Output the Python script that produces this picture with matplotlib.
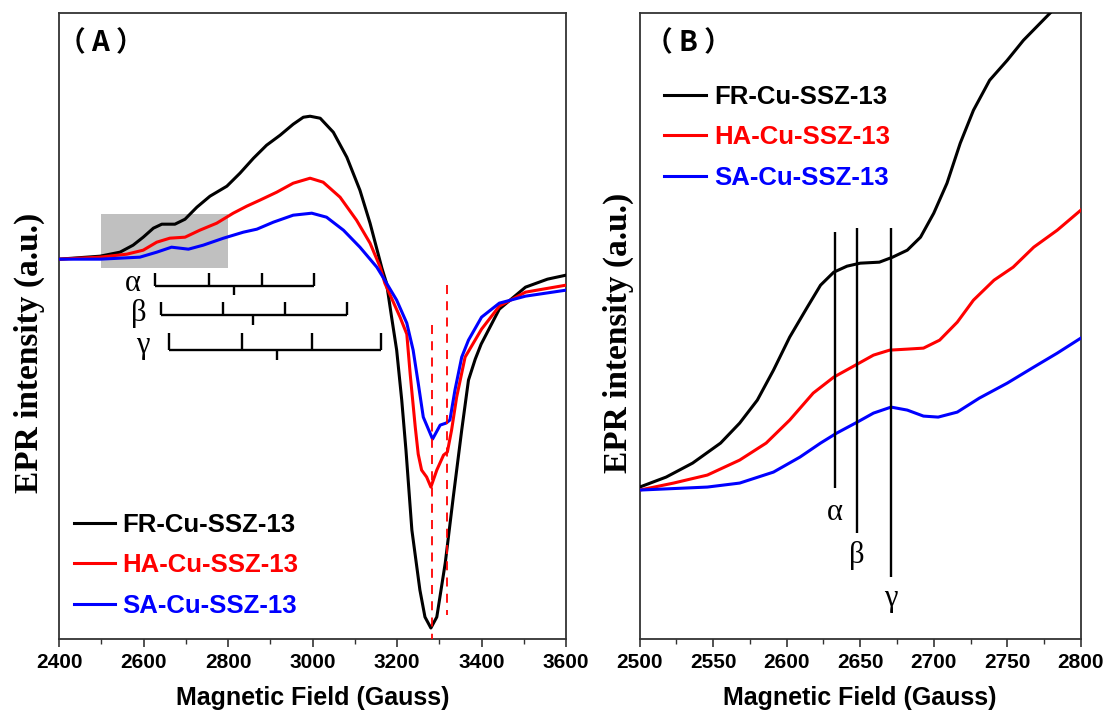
import matplotlib
matplotlib.use("Agg")
import matplotlib.pyplot as plt
from matplotlib.patches import Rectangle
from matplotlib.ticker import MultipleLocator

# ---- panel A: full spectra (field in Gauss, intensity in arb. units) ----
fr_a_field = [2400, 2497, 2544, 2575, 2599, 2623, 2643, 2674, 2698, 2726, 2757, 2797, 2828,
              2860, 2891, 2923, 2954, 2978, 2994, 3018, 3049, 3081, 3112, 3136, 3164, 3175,
              3187, 3199, 3211, 3221, 3235, 3254, 3266, 3280, 3294, 3314, 3333, 3353, 3369,
              3385, 3399, 3442, 3504, 3556, 3600]
fr_a_int = [0, 3, 7, 14, 22, 31, 35, 35, 40, 52, 63, 73, 86,
            101, 114, 124, 135, 142, 143, 141, 127, 102, 69, 36, -9, -24,
            -58, -91, -141, -191, -271, -331, -358, -369, -358, -304, -238, -171, -121,
            -100, -85, -50, -28, -20, -16]

ha_a_field = [2400, 2497, 2560, 2599, 2631, 2662, 2698, 2733, 2773, 2812, 2844, 2875, 2915,
              2954, 2994, 3025, 3065, 3104, 3136, 3160, 3171, 3207, 3223, 3231, 3243, 3250,
              3258, 3270, 3280, 3294, 3310, 3319, 3329, 3341, 3361, 3400, 3442, 3504, 3600]
ha_a_int = [0, 2, 5, 9, 17, 21, 22, 29, 36, 46, 53, 59, 67,
            76, 81, 77, 62, 39, 16, -8, -24, -58, -75, -115, -168, -195,
            -211, -218, -228, -211, -196, -193, -171, -138, -98, -70, -47, -33, -26]

sa_a_field = [2400, 2497, 2591, 2631, 2666, 2706, 2741, 2789, 2836, 2868, 2907, 2954, 2998,
              3033, 3073, 3112, 3152, 3168, 3199, 3223, 3238, 3250, 3262, 3272, 3284, 3302,
              3316, 3325, 3337, 3353, 3369, 3400, 3442, 3504, 3600]
sa_a_int = [0, 0, 2, 7, 12, 10, 14, 21, 27, 30, 37, 44, 46,
            42, 29, 12, -8, -19, -41, -64, -91, -124, -158, -168, -180, -166,
            -164, -161, -131, -98, -81, -58, -44, -37, -31]

# hyperfine stick diagrams (four lines + centre) for sites alpha, beta, gamma
hf_names = ["α", "β", "γ"]
hf_lines = [[2628, 2755, 2879, 3004], [2641, 2788, 2934, 3081], [2661, 2832, 2998, 3162]]
hf_center = [2814, 2860, 2915]
hf_base = [-27, -56, -91]
hf_top = [-14, -43, -74]
hf_low = [-36, -66, -101]
hf_label_x = [2575, 2588, 2597]
hf_label_y = [-24, -54, -86]

zoom_region = [2500, 2800]
zoom_int = [-9, 45]

dash_field = [3282, 3319]
dash_top = [-66, -26]
dash_low = [-380, -356]

# ---- panel B: zoom of the low-field region ----
fr_b_field = [2500, 2518, 2536, 2555, 2568, 2580, 2591, 2602, 2614, 2623, 2632, 2641, 2650,
              2663, 2672, 2682, 2691, 2700, 2709, 2718, 2727, 2738, 2750, 2761, 2779]
fr_b_int = [152, 162, 176, 196, 216, 239, 269, 302, 332, 354, 367, 373, 376,
            377, 382, 389, 402, 426, 456, 496, 529, 559, 579, 599, 626]

ha_b_field = [2500, 2523, 2546, 2568, 2586, 2602, 2618, 2632, 2648, 2659, 2670, 2682, 2693,
              2704, 2716, 2727, 2741, 2754, 2768, 2784, 2800]
ha_b_int = [149, 156, 164, 179, 196, 219, 246, 262, 275, 284, 289, 290, 291,
            299, 317, 339, 359, 372, 392, 409, 429]

sa_b_field = [2500, 2546, 2568, 2591, 2609, 2623, 2634, 2648, 2659, 2671, 2682, 2693, 2703,
              2716, 2731, 2750, 2768, 2784, 2800]
sa_b_int = [149, 152, 156, 167, 182, 196, 206, 217, 226, 232, 229, 223, 222,
            227, 241, 256, 272, 286, 301]

mark_field = [2633, 2648, 2671]
mark_top = [407, 411, 411]
mark_low = [151, 106, 62]
mark_label_y = [127, 84, 41]

names = ["FR-Cu-SSZ-13", "HA-Cu-SSZ-13", "SA-Cu-SSZ-13"]
colors = ["black", "#ff0000", "#0000ff"]

sans = "Liberation Sans"
serif = "Liberation Serif"
cjk = ["Noto Sans CJK SC", "DejaVu Sans"]

fig = plt.figure(figsize=(11.06, 7.10), dpi=100)
axA = fig.add_axes([0.0535, 0.1, 0.4583, 0.8813])
axB = fig.add_axes([0.5784, 0.1, 0.3988, 0.8813])


def style_axis(ax, major, minor):
    for sp in ax.spines.values():
        sp.set_linewidth(1.3)
        sp.set_color("#333333")
    ax.xaxis.set_major_locator(MultipleLocator(major))
    ax.xaxis.set_minor_locator(MultipleLocator(minor))
    ax.tick_params(axis="x", which="major", direction="out", length=6, width=1.2,
                   color="#333333", pad=4)
    ax.tick_params(axis="x", which="minor", direction="out", length=3.5, width=1.0,
                   color="#333333")
    ax.tick_params(axis="y", left=False, labelleft=False)
    for lab in ax.get_xticklabels():
        lab.set_fontfamily(sans)
        lab.set_fontweight("bold")
        lab.set_fontsize(15)
    ax.set_xlabel("Magnetic Field (Gauss)", fontfamily=sans, fontweight="bold",
                  fontsize=18, labelpad=10)


# ---- panel A ----
axA.add_patch(Rectangle((zoom_region[0], zoom_int[0]), zoom_region[1] - zoom_region[0],
                        zoom_int[1] - zoom_int[0], facecolor="#c0c0c0", edgecolor="none",
                        zorder=0))
for f, y, n, c in zip([fr_a_field, ha_a_field, sa_a_field], [fr_a_int, ha_a_int, sa_a_int],
                      names, colors):
    axA.plot(f, y, color=c, lw=2.2, label=n, zorder=3, solid_joinstyle="round")

for i in range(3):
    axA.hlines(hf_base[i], hf_lines[i][0], hf_lines[i][-1], color="black", lw=1.7)
    axA.vlines(hf_lines[i], hf_base[i], hf_top[i], color="black", lw=1.7)
    axA.vlines(hf_center[i], hf_low[i], hf_base[i], color="black", lw=1.7)
    axA.text(hf_label_x[i], hf_label_y[i], hf_names[i], fontfamily=serif, fontsize=22,
             ha="center", va="center")

for f, t, b in zip(dash_field, dash_top, dash_low):
    axA.plot([f, f], [t, b], color="#ff0000", lw=1.3, ls=(0, (5, 4)), zorder=4)

axA.set_xlim(2400, 3600)
axA.set_ylim(-380, 246)
style_axis(axA, 200, 100)
axA.set_ylabel("EPR intensity (a.u.)", fontfamily=serif, fontweight="bold", fontsize=24)
axA.yaxis.set_label_coords(-0.028, 0.457)
axA.text(0.0825, 0.9525, "（ A ）", transform=axA.transAxes, fontfamily=cjk,
         fontweight="bold", fontsize=20, ha="center", va="center")
axA.legend(loc="upper left", bbox_to_anchor=(0.029, 0.202), frameon=False, borderpad=0,
           borderaxespad=0, handlelength=1.6, handletextpad=0.3, labelspacing=0.65,
           labelcolor="linecolor", prop={"family": sans, "weight": "bold", "size": 18.5})

# ---- panel B ----
for f, y, n, c in zip([fr_b_field, ha_b_field, sa_b_field], [fr_b_int, ha_b_int, sa_b_int],
                      names, colors):
    axB.plot(f, y, color=c, lw=2.2, label=n, zorder=3, solid_joinstyle="round")

axB.vlines(mark_field, mark_low, mark_top, color="black", lw=1.7, zorder=4)
for f, y, n in zip(mark_field, mark_label_y, hf_names):
    axB.text(f, y, n, fontfamily=serif, fontsize=22, ha="center", va="center")

axB.set_xlim(2500, 2800)
axB.set_ylim(0, 626)
style_axis(axB, 50, 25)
axB.set_ylabel("EPR intensity (a.u.)", fontfamily=serif, fontweight="bold", fontsize=24)
axB.yaxis.set_label_coords(-0.012, 0.489)
axB.text(0.1095, 0.9525, "（ B ）", transform=axB.transAxes, fontfamily=cjk,
         fontweight="bold", fontsize=20, ha="center", va="center")
axB.legend(loc="upper left", bbox_to_anchor=(0.055, 0.886), frameon=False, borderpad=0,
           borderaxespad=0, handlelength=1.65, handletextpad=0.3, labelspacing=0.65,
           labelcolor="linecolor", prop={"family": sans, "weight": "bold", "size": 18.5})

fig.savefig("out.png", dpi=100)
